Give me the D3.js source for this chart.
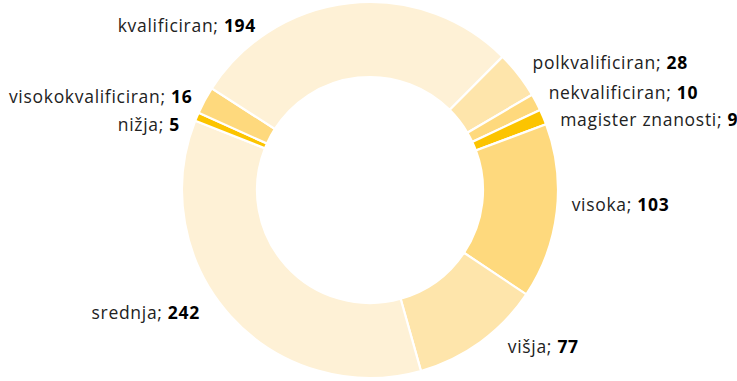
<!DOCTYPE html>
<html>
<head>
<meta charset="utf-8">
<script src="https://cdn.jsdelivr.net/npm/d3@7"></script>
<style>
  html, body { margin: 0; padding: 0; background: #fff; }
  svg { display: block; }
  text { font-family: "Open Sans", "Noto Sans", sans-serif; font-size: 17.5px; letter-spacing: 0.7px; fill: #222; }
  .val { font-weight: 700; fill: #000; }
</style>
</head>
<body>
<svg id="chart" width="737" height="381"></svg>
<script>
// Education levels and head counts, in drawing order (clockwise)
const categories = ["polkvalificiran", "nekvalificiran", "magister znanosti", "visoka", "višja",
                    "srednja", "nižja", "visokokvalificiran", "kvalificiran"];
const values = [28, 10, 9, 103, 77, 242, 5, 16, 194];
const colors = ["#fee5ab", "#fed97d", "#fcc400", "#fed97d", "#fee5ab",
                "#fef1d6", "#fcc400", "#fed97d", "#fef1d6"];

// Label nudges (px) so neighbouring labels don't collide and stay on canvas
const labelNudge = {
  "polkvalificiran": [3, -3], "nekvalificiran": [0, -3], "magister znanosti": [4, 8],
  "visoka": [1, -8], "višja": [19, -7], "srednja": [-20, -12],
  "nižja": [-4, 14], "visokokvalificiran": [0, 3], "kvalificiran": [-92, 37]
};

const W = 737, H = 381;
const cx = 370, cy = 190, outerR = 188, innerR = 113, labelR = 202;
const startDeg = 44.8;

const data = categories.map((c, i) => ({ name: c, value: values[i], color: colors[i] }));

const pie = d3.pie().sort(null).value(d => d.value)
  .startAngle(startDeg * Math.PI / 180)
  .endAngle((startDeg + 360) * Math.PI / 180);
const arcs = pie(data);

const arc = d3.arc().innerRadius(innerR).outerRadius(outerR);

const svg = d3.select("#chart");
const g = svg.append("g").attr("transform", `translate(${cx},${cy})`);

g.selectAll("path.slice").data(arcs).join("path")
  .attr("class", "slice")
  .attr("d", arc)
  .attr("fill", d => d.data.color)
  .attr("stroke", "#fff")
  .attr("stroke-width", 2.2)
  .attr("stroke-linejoin", "miter");

g.selectAll("text.lbl").data(arcs).join("text")
  .attr("class", "lbl")
  .each(function (d) {
    const a = (d.startAngle + d.endAngle) / 2;
    const right = Math.sin(a) >= 0;
    const [nx, ny] = labelNudge[d.data.name] || [0, 0];
    const x = labelR * Math.sin(a) + nx;
    const y = -labelR * Math.cos(a) + ny;
    const t = d3.select(this)
      .attr("x", x).attr("y", y)
      .attr("dy", "0.35em")
      .attr("text-anchor", right ? "start" : "end");
    t.append("tspan").text(d.data.name + "; ");
    t.append("tspan").attr("class", "val").text(d.data.value);
  });
</script>
</body>
</html>
